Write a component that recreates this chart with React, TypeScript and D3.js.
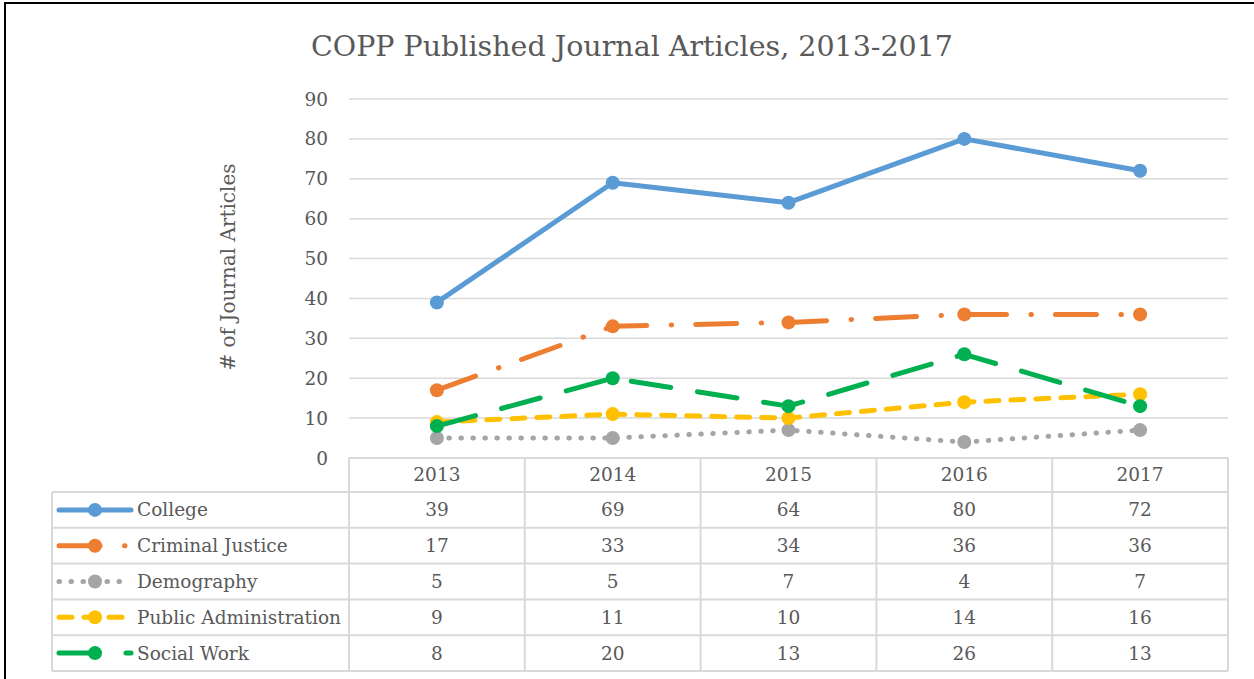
import React from 'react';
import * as d3 from 'd3';

const years = ['2013', '2014', '2015', '2016', '2017'];
const seriesNames = ['College', 'Criminal Justice', 'Demography', 'Public Administration', 'Social Work'];
const college = [39, 69, 64, 80, 72];
const criminalJustice = [17, 33, 34, 36, 36];
const demography = [5, 5, 7, 4, 7];
const publicAdmin = [9, 11, 10, 14, 16];
const socialWork = [8, 20, 13, 26, 13];
const yTicks = [0, 10, 20, 30, 40, 50, 60, 70, 80, 90];

const FONT = "'DejaVu Serif', Georgia, serif";
const TEXT = '#595959';
const GRID = '#d9d9d9';

const styles = [
    { color: '#5B9BD5', dash: 'none' },
    { color: '#ED7D31', dash: '41 24.5 0.5 24' },
    { color: '#A5A5A5', dash: '0.5 11.5' },
    { color: '#FFC000', dash: '13 12' },
    { color: '#00B050', dash: '40 27' },
];

const App = () => {
    const width = 1254;
    const height = 679;
    const left = 349;
    const right = 1228;
    const top = 99;
    const bottom = 458;
    const tableLeft = 52;
    const rowH = 35.8;
    const fs = 18.5;

    const values = [college, criminalJustice, demography, publicAdmin, socialWork];

    const x = d3.scaleBand().domain(years).range([left, right]);
    const y = d3.scaleLinear().domain([0, 90]).range([bottom, top]);
    const cx = (yr: string) => x(yr)! + x.bandwidth() / 2;

    const line = d3
        .line<number>()
        .x((_, i) => cx(years[i]))
        .y((d) => y(d));

    const headerBottom = bottom + 34;
    const rowY = (i: number) => headerBottom + i * rowH;

    return (
        <svg width={width} height={height} style={{ position: 'absolute', left: 0, top: 0, fontFamily: FONT }}>
            <rect x={0} y={0} width={width} height={height} fill="white" />
            <rect x={5} y={3} width={width + 10} height={height + 10} fill="none" stroke="#000" strokeWidth={2} />

            <text x={632} y={56} textAnchor="middle" fontSize={28.5} fill={TEXT}>
                COPP Published Journal Articles, 2013-2017
            </text>

            {/* gridlines */}
            {yTicks.map((t) => (
                <g key={t}>
                    {t > 0 && <line x1={left} x2={right} y1={y(t)} y2={y(t)} stroke={GRID} strokeWidth={1.5} />}
                    <text x={328} y={y(t) + 6.5} textAnchor="end" fontSize={fs} fill={TEXT}>
                        {t}
                    </text>
                </g>
            ))}

            <text transform={`translate(235,267) rotate(-90)`} textAnchor="middle" fontSize={20} fill={TEXT}>
                # of Journal Articles
            </text>

            {/* table grid */}
            <g stroke={GRID} strokeWidth={2} fill="none">
                <line x1={left} x2={right} y1={bottom} y2={bottom} />
                {[0, 1, 2, 3, 4, 5].map((i) => (
                    <line key={i} x1={tableLeft} x2={right} y1={rowY(i)} y2={rowY(i)} />
                ))}
                <line x1={tableLeft} x2={tableLeft} y1={headerBottom} y2={rowY(5)} />
                {years.map((yr) => (
                    <line key={yr} x1={x(yr)!} x2={x(yr)!} y1={bottom} y2={rowY(5)} />
                ))}
                <line x1={right} x2={right} y1={bottom} y2={rowY(5)} />
            </g>

            {years.map((yr) => (
                <text key={yr} x={cx(yr)} y={bottom + 23} textAnchor="middle" fontSize={fs} fill={TEXT}>
                    {yr}
                </text>
            ))}

            {seriesNames.map((name, si) => {
                const ry = rowY(si) + rowH / 2;
                const st = styles[si];
                return (
                    <g key={name}>
                        <line
                            x1={59}
                            x2={131}
                            y1={ry}
                            y2={ry}
                            stroke={st.color}
                            strokeWidth={5}
                            strokeLinecap="round"
                            strokeDasharray={st.dash}
                        />
                        <circle cx={95} cy={ry} r={7} fill={st.color} />
                        <text x={137} y={ry + 6.5} fontSize={fs} fill={TEXT}>
                            {name}
                        </text>
                        {values[si].map((v, i) => (
                            <text key={i} x={cx(years[i])} y={ry + 6.5} textAnchor="middle" fontSize={fs} fill={TEXT}>
                                {v}
                            </text>
                        ))}
                    </g>
                );
            })}

            {/* series lines */}
            {values.map((vals, si) => (
                <g key={si}>
                    <path
                        d={line(vals) ?? ''}
                        fill="none"
                        stroke={styles[si].color}
                        strokeWidth={5}
                        strokeLinecap="round"
                        strokeLinejoin="round"
                        strokeDasharray={styles[si].dash}
                    />
                    {vals.map((v, i) => (
                        <circle key={i} cx={cx(years[i])} cy={y(v)} r={7} fill={styles[si].color} />
                    ))}
                </g>
            ))}
        </svg>
    );
};

export default App;
